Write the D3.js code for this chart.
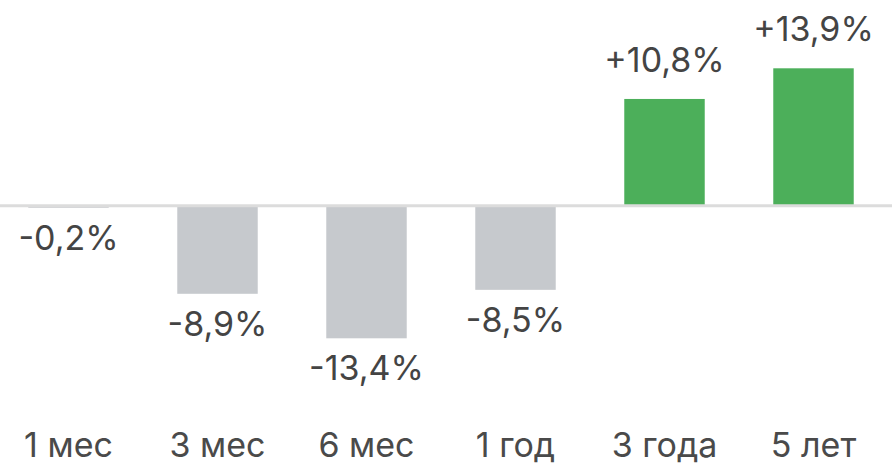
<!DOCTYPE html>
<html>
<head>
<meta charset="utf-8">
<script src="https://cdn.jsdelivr.net/npm/d3@7"></script>
<style>
  html, body { margin: 0; padding: 0; background: #fff; }
  svg { display: block; }
  text { font-family: Inter, "Noto Sans", sans-serif; }
</style>
</head>
<body>
<svg id="chart" width="892" height="470"></svg>
<script>
const categories = ["1 мес", "3 мес", "6 мес", "1 год", "3 года", "5 лет"];
const values = [-0.2, -8.9, -13.4, -8.5, 10.8, 13.9];
const valueLabels = ["-0,2%", "-8,9%", "-13,4%", "-8,5%", "+10,8%", "+13,9%"];

const W = 892, H = 470;
const svg = d3.select("#chart");

const x = d3.scaleBand()
  .domain(categories)
  .range([-6, 888])
  .paddingInner(0.46)
  .paddingOuter(0.23);

const y = d3.scaleLinear()
  .domain([-13.4, 13.9])
  .range([338.3, 68.3]);

const zeroY = y(0);

// bars
svg.append("g").selectAll("rect")
  .data(values)
  .join("rect")
  .attr("x", (d, i) => x(categories[i]))
  .attr("width", x.bandwidth())
  .attr("y", d => d >= 0 ? y(d) : zeroY)
  .attr("height", d => Math.abs(y(d) - zeroY))
  .attr("fill", d => d >= 0 ? "#4caf5a" : "#c6c9cd");

// baseline
svg.append("line")
  .attr("x1", 0).attr("x2", W)
  .attr("y1", zeroY).attr("y2", zeroY)
  .attr("stroke", "#dcdcdc")
  .attr("stroke-width", 3);

// value labels
svg.append("g").selectAll("text")
  .data(values)
  .join("text")
  .attr("x", (d, i) => x(categories[i]) + x.bandwidth() / 2)
  .attr("y", d => d >= 0 ? y(d) - 27 : y(d) + 42)
  .attr("text-anchor", "middle")
  .attr("fill", "#444")
  .attr("font-size", 34)
  .text((d, i) => valueLabels[i]);

// category axis
const xAxis = d3.axisBottom(x).tickSize(0).tickPadding(0);
const ax = svg.append("g")
  .attr("transform", "translate(0,430)")
  .call(xAxis);
ax.select(".domain").remove();
ax.selectAll("text")
  .attr("dy", "0.79em")
  .attr("fill", "#4a4a4a")
  .attr("font-size", 34)
  .attr("font-family", "Inter, 'Noto Sans', sans-serif");
</script>
</body>
</html>
